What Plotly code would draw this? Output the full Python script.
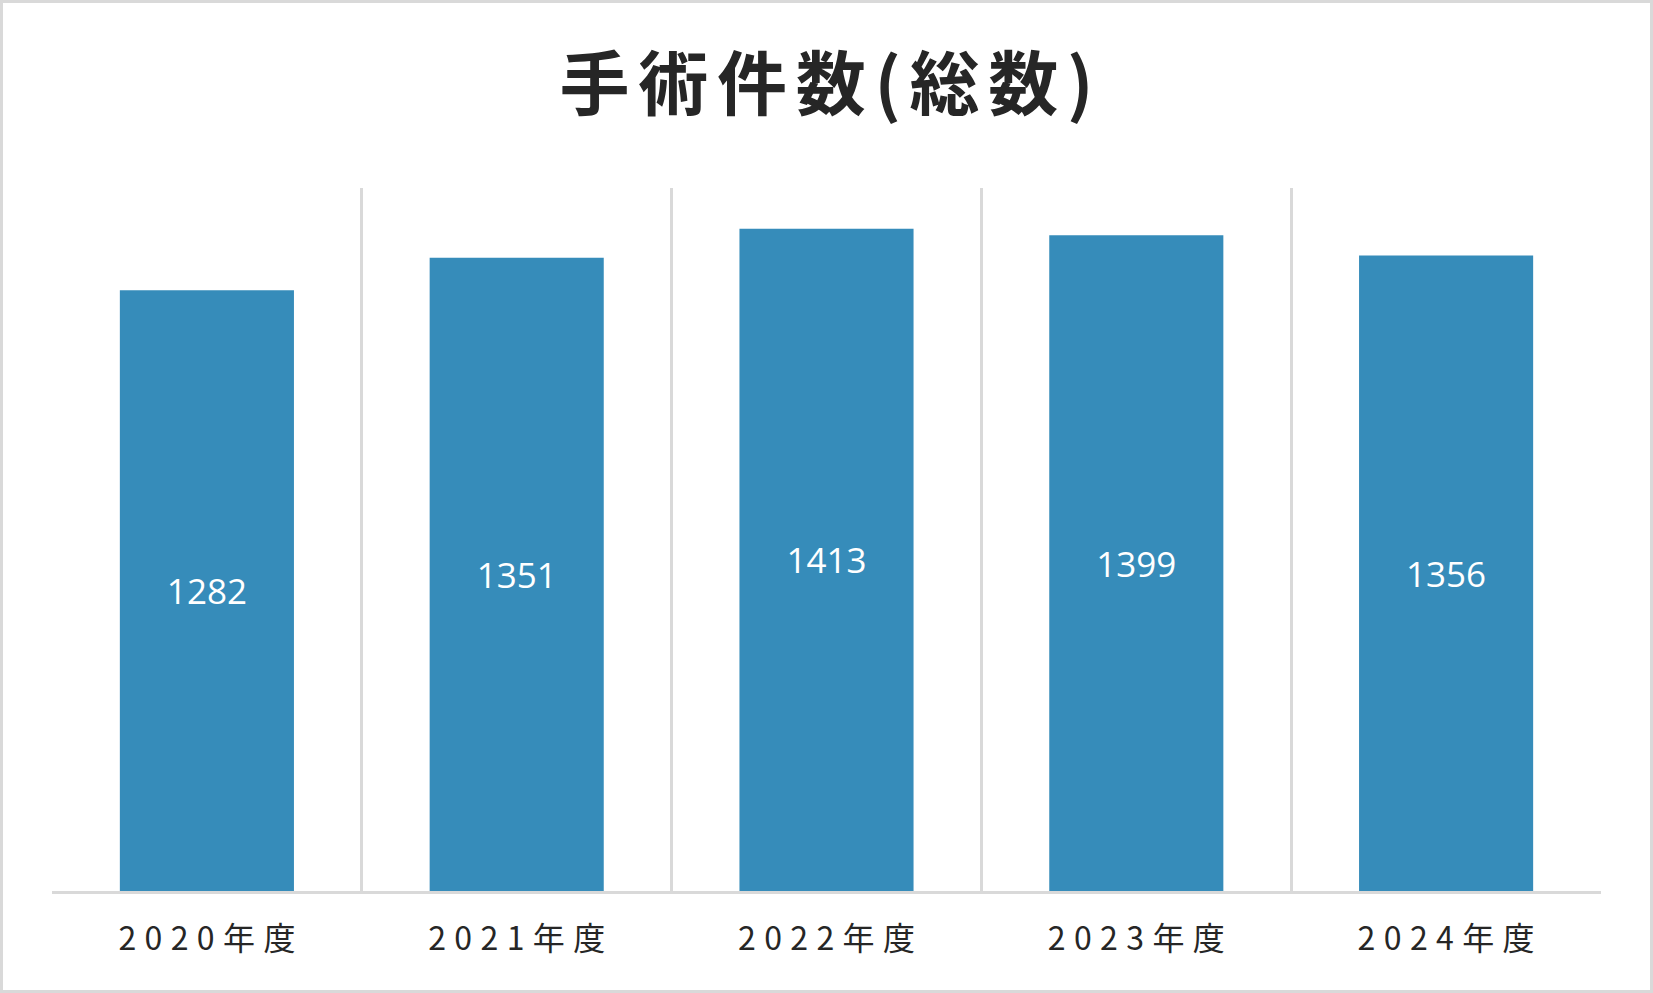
import plotly.graph_objects as go

categories = ["2020年度", "2021年度", "2022年度", "2023年度", "2024年度"]
surgery_counts = [1282, 1351, 1413, 1399, 1356]
title_text = "手術件数(総数)"

W, H = 1653, 993
ML, MR, MT, MB = 52, 52, 188, 102
PW, PH = W - ML - MR, H - MT - MB

def spaced(s, sep="\u2009"):
    return sep.join(list(s))

fig = go.Figure(
    go.Bar(
        x=categories,
        y=surgery_counts,
        marker=dict(color="#368CBA", line=dict(width=0)),
        text=[str(v) for v in surgery_counts],
        textposition="inside",
        insidetextanchor="middle",
        textangle=0,
        textfont=dict(family="Open Sans", size=35, color="#FFFFFF"),
        hoverinfo="skip",
    )
)

fig.update_layout(
    width=W,
    height=H,
    margin=dict(l=ML, r=MR, t=MT, b=MB, pad=0),
    paper_bgcolor="#FFFFFF",
    plot_bgcolor="#FFFFFF",
    bargap=0.438,
    showlegend=False,
    title=dict(
        text=spaced(title_text, "\u200a\u200a"),
        x=0.5,
        xanchor="center",
        xref="paper",
        y=1 - 85 / H,
        yanchor="middle",
        yref="container",
        font=dict(family="Noto Sans CJK JP", size=70, color="#262626", weight="bold"),
    ),
    xaxis=dict(
        type="category",
        tickmode="array",
        tickvals=categories,
        ticktext=[spaced(c, "\u2009\u200a") for c in categories],
        tickson="boundaries",
        ticks="",
        showgrid=True,
        gridcolor="#D9D9D9",
        gridwidth=2.5,
        showline=True,
        linecolor="#D9D9D9",
        linewidth=2.5,
        tickfont=dict(family="Noto Sans CJK JP", size=32, color="#262626"),
        ticklabelstandoff=18,
        fixedrange=True,
    ),
    yaxis=dict(
        range=[0, 1500],
        visible=False,
        showgrid=False,
        zeroline=False,
        fixedrange=True,
    ),
    shapes=[
        dict(
            type="rect",
            xref="paper",
            yref="paper",
            x0=(-ML + 1.5) / PW,
            x1=(PW + MR - 1.5) / PW,
            y0=(-MB + 1.5) / PH,
            y1=(PH + MT - 1.5) / PH,
            line=dict(color="#D9D9D9", width=3),
            fillcolor="rgba(0,0,0,0)",
            layer="below",
        )
    ],
)

fig.write_html(
    "out.html",
    config={"displayModeBar": False},
    post_script="document.body.style.margin='0';document.body.style.overflow='hidden';",
)
